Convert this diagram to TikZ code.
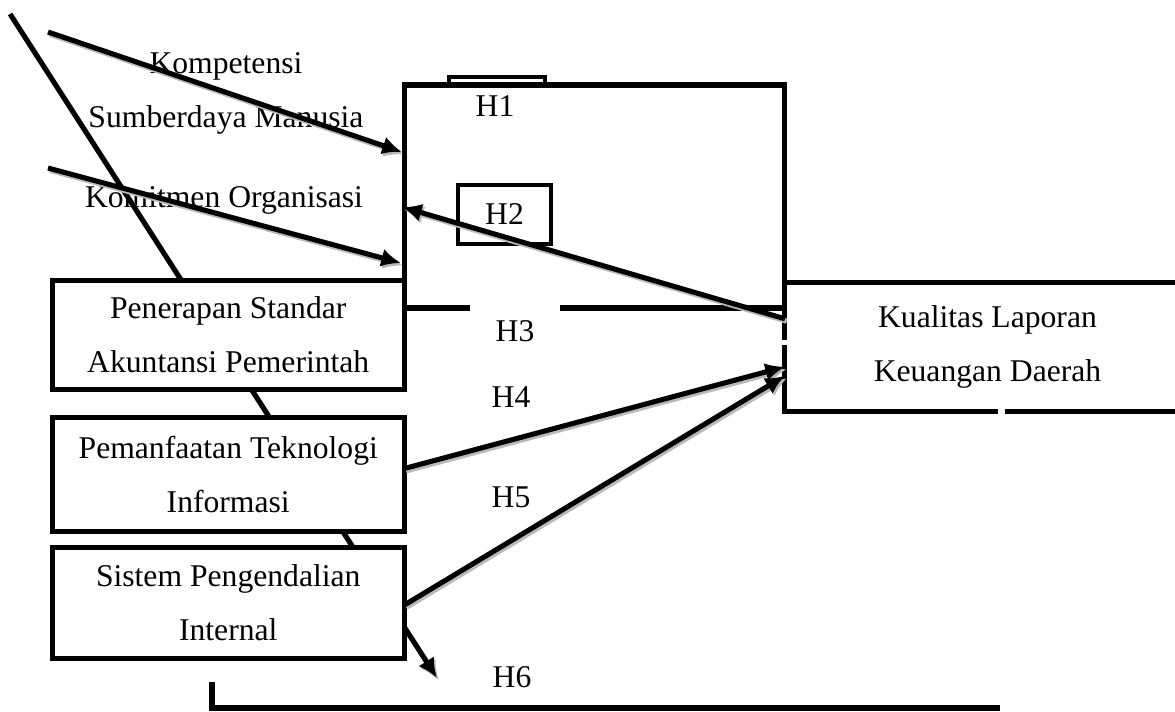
\documentclass[tikz,border=0pt]{standalone}
\usepackage{fontspec}
\setmainfont{Liberation Serif}
\usetikzlibrary{positioning,calc,arrows.meta}

\begin{document}
\begin{tikzpicture}[x=0.025cm, y=-0.025cm,
				every node/.style={font=\fontsize{22.5}{38.4}\selectfont},
				varbox/.style={rectangle, draw=black, line width=3.6pt, fill=white, minimum width=8.8cm, align=center, inner sep=0pt, outer sep=0pt},
				hypbox/.style={rectangle, draw=black, line width=3.4pt, inner sep=0pt, outer sep=0pt},
				hyplabel/.style={rectangle, inner sep=0pt},
				plainline/.style={line width=3.6pt},
				link/.style={line width=3.6pt, preaction={draw=gray!55, line width=3.6pt, transform canvas={xshift=1.3pt, yshift=-1.7pt}}},
				arrowlink/.style={link, -{Latex[length=14pt, width=13pt]}}
			]
			\useasboundingbox (0,0) rectangle (1175,711);
			\node[align=center] (kompetensi) at (226,93) {Kompetensi\\Sumberdaya Manusia};
			\node (komitmen) at (224,200) {Komitmen Organisasi};
			\coordinate (diagtop) at (10,14);
			\coordinate (h6tip) at (437,678);
			\draw[arrowlink] (diagtop) -- (h6tip);
			\node[varbox, minimum height=2.725cm] (psap) at (228.25,335) {Penerapan Standar\\Akuntansi Pemerintah};
			\node[varbox, minimum height=2.85cm] (pti) [below=0.7cm of psap] {Pemanfaatan Teknologi\\Informasi};
			\node[varbox, minimum height=2.775cm] (spi) [below=0.4cm of pti] {Sistem Pengendalian\\Internal};
			\node[varbox, minimum width=10.125cm, minimum height=3.21cm] (kualitas) at (987.5,347) {Kualitas Laporan\\Keuangan Daerah};
			\draw[white, line width=4.5pt] ($(kualitas.north west)+(0,57)$) -- ++(0,5);
			\draw[white, line width=4.5pt] ($(kualitas.south west)+(213,0)$) -- ++(7,0);
			\coordinate (h1top) at (600,85);
			\draw[plainline] (psap.north east) |- (h1top) -| (kualitas.north west);
			\node[hypbox, line width=2.8pt, minimum width=2.4cm, minimum height=0.21cm, anchor=south west] (h1tab) at (449,85) {};
			\node[hypbox, minimum width=2.325cm, minimum height=1.475cm] (h2box) at (504.5,214.5) {H2};
			\node[hyplabel] (h1) at (495,106) {H1};
			\node[hyplabel] (h3) at (515,331) {H3};
			\node[hyplabel] (h4) at (511,397) {H4};
			\node[hyplabel] (h5) at (511,497) {H5};
			\node[hyplabel] (h6) at (512,677) {H6};
			\coordinate (h3gapl) at (470,308);
			\coordinate (h3gapr) at (560,308);
			\draw[plainline] (psap.east |- h3gapl) -- (h3gapl);
			\draw[plainline] (h3gapr) -- (kualitas.west |- h3gapr);
			\coordinate (kompstart) at (48,32);
			\coordinate (kompend) at (402,152);
			\coordinate (komitstart) at (48,168);
			\coordinate (komitend) at (401,263);
			\coordinate (h2tip) at (402,207);
			\draw[arrowlink] (kompstart) -- (kompend);
			\draw[arrowlink] (komitstart) -- (komitend);
			\draw[arrowlink] ($(kualitas.north west)+(0,36)$) -- (h2tip);
			\draw[arrowlink] ($(pti.east)+(0,-6)$) -- ($(kualitas.north west)+(0,84)$);
			\draw[arrowlink] ($(spi.east)+(0,2)$) -- ($(kualitas.north west)+(0,93)$);
			\coordinate (brackettop) at (212,682);
			\coordinate (bracketend) at (1000,708);
			\draw[plainline] (brackettop) |- (bracketend);
			\end{tikzpicture}
\end{document}
